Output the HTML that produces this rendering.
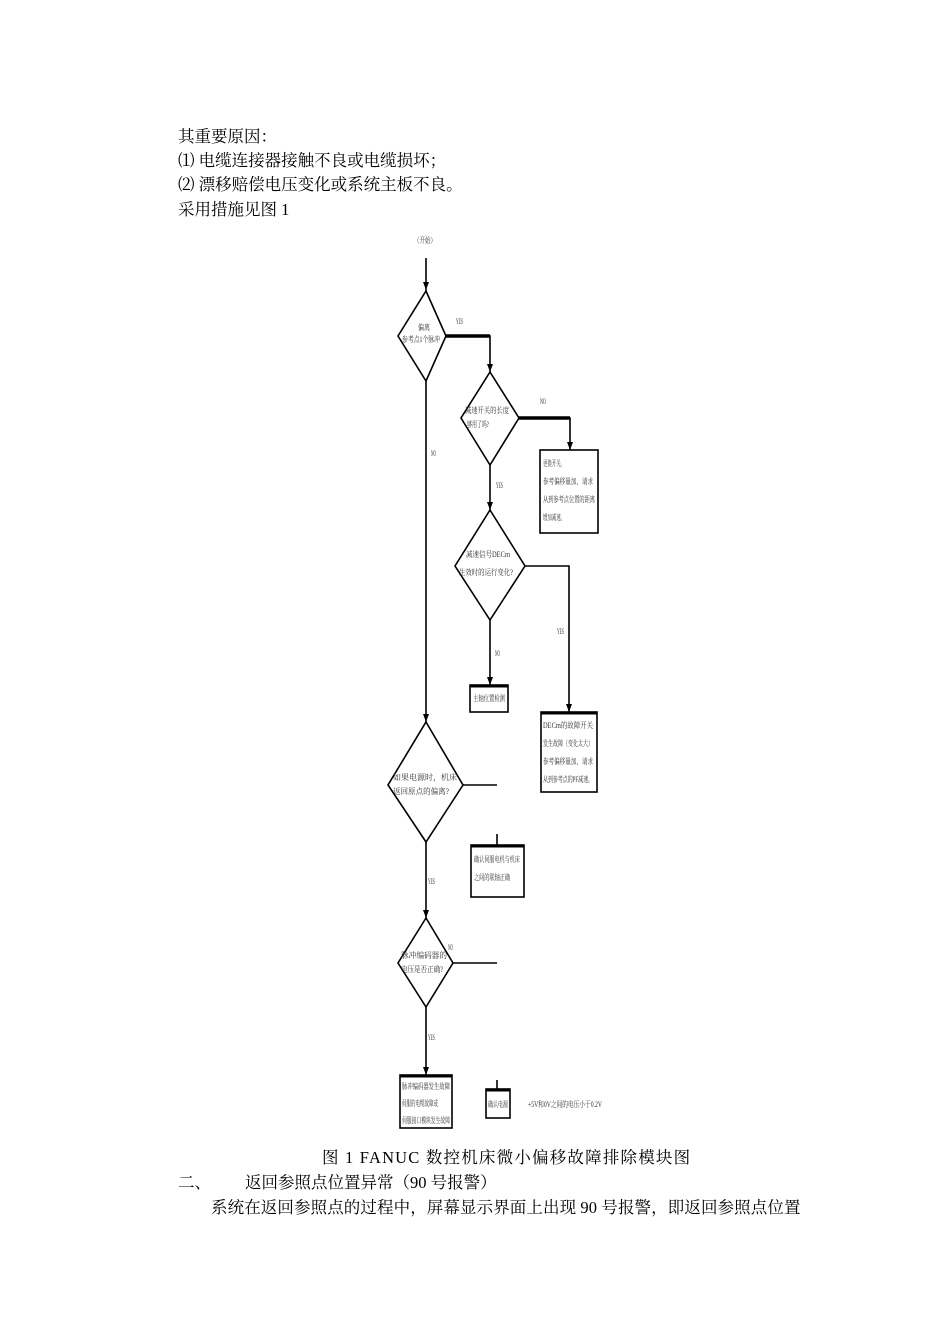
<!DOCTYPE html>
<html><head><meta charset="utf-8"><style>
body{margin:0;width:950px;height:1344px;background:#fff;position:relative;overflow:hidden;font-family:"Liberation Serif","Noto Serif CJK SC",serif;color:#000}
.t{position:absolute;font-size:16.5px;white-space:nowrap;line-height:20px}
svg{position:absolute;left:0;top:0}
svg text{font-family:"Liberation Serif","Noto Serif CJK SC",serif;fill:#333}
</style></head><body>
<div class="t" style="left:178px;top:127px">其重要原因：</div>
<div class="t" style="left:178px;top:151px">⑴ 电缆连接器接触不良或电缆损坏；</div>
<div class="t" style="left:178px;top:175px">⑵ 漂移赔偿电压变化或系统主板不良。</div>
<div class="t" style="left:178px;top:200px">采用措施见图 1</div>
<div class="t" style="left:322px;top:1148px;letter-spacing:1.2px">图 1 FANUC 数控机床微小偏移故障排除模块图</div>
<div class="t" style="left:178px;top:1173px">二、</div>
<div class="t" style="left:245px;top:1173px">返回参照点位置异常（90 号报警）</div>
<div class="t" style="left:211px;top:1198px;letter-spacing:0.1px">系统在返回参照点的过程中，屏幕显示界面上出现 90 号报警，即返回参照点位置</div>
<svg width="950" height="1344" viewBox="0 0 950 1344">
<g stroke="#000" fill="none" stroke-width="1.6">
<line x1="426" y1="258" x2="426" y2="291"/>
<polygon points="426,291 446,336 426,381 398,336"/>
<line x1="426" y1="381" x2="426" y2="722"/>
<polyline points="446,336 490,336 490,372" /> <line x1="446" y1="336" x2="490" y2="336" stroke-width="3.5"/>
<polygon points="490,372 519,418 490,465 461,418"/>
<polyline points="519,418 570,418 570,450"/><line x1="519" y1="418" x2="570" y2="418" stroke-width="3.5"/>
<rect x="540" y="450" width="58" height="83"/>
<line x1="490" y1="465" x2="490" y2="510"/>
<polygon points="490,510 525,566 490,620 455,566"/>
<polyline points="525,566 569,566 569,712"/>
<line x1="490" y1="620" x2="490" y2="685"/>
<rect x="470" y="685" width="38" height="27"/>
<rect x="541" y="712" width="56" height="80"/>
<polygon points="426,722 463,785 426,842 388,785"/>
<line x1="463" y1="785" x2="497" y2="785"/>
<line x1="497" y1="834" x2="497" y2="845"/>
<rect x="471" y="845" width="53" height="52"/>
<line x1="426" y1="842" x2="426" y2="918"/>
<polygon points="426,918 453,963 426,1007 398,963"/>
<line x1="453" y1="963" x2="497" y2="963"/>
<line x1="426" y1="1007" x2="426" y2="1075"/>
<rect x="400" y="1075" width="52" height="53"/>
<line x1="497" y1="1080" x2="497" y2="1089"/>
<rect x="486" y="1089" width="24" height="29"/>
</g>
<g stroke="#000" stroke-width="3">
<line x1="470" y1="686" x2="508" y2="686"/><line x1="541" y1="713" x2="597" y2="713"/>
<line x1="471" y1="846" x2="524" y2="846"/><line x1="400" y1="1076" x2="452" y2="1076"/>
<line x1="486" y1="1090" x2="510" y2="1090"/>
</g>
<g fill="#000">
<polygon points="423,282 429,282 426,290"/><polygon points="487,364 493,364 490,372"/>
<polygon points="567,442 573,442 570,450"/><polygon points="487,502 493,502 490,510"/>
<polygon points="487,677 493,677 490,685"/><polygon points="566,704 572,704 569,712"/>
<polygon points="423,714 429,714 426,722"/><polygon points="423,910 429,910 426,918"/>
<polygon points="423,1067 429,1067 426,1075"/>
</g>
<g font-size="8" lengthAdjust="spacingAndGlyphs">
<text x="414" y="243" textLength="22" lengthAdjust="spacingAndGlyphs">（开始）</text>
<text x="456" y="324" textLength="7" lengthAdjust="spacingAndGlyphs">YES</text><text x="431" y="456" textLength="5" lengthAdjust="spacingAndGlyphs">NO</text>
<text x="540" y="404" textLength="6" lengthAdjust="spacingAndGlyphs">NO</text><text x="496" y="488" textLength="7" lengthAdjust="spacingAndGlyphs">YES</text>
<text x="557" y="634" textLength="7" lengthAdjust="spacingAndGlyphs">YES</text><text x="495" y="656" textLength="5" lengthAdjust="spacingAndGlyphs">NO</text>
<text x="428" y="884" textLength="7" lengthAdjust="spacingAndGlyphs">YES</text><text x="448" y="950" textLength="5" lengthAdjust="spacingAndGlyphs">NO</text>
<text x="428" y="1040" textLength="7" lengthAdjust="spacingAndGlyphs">YES</text>
<text x="418" y="330" textLength="12" lengthAdjust="spacingAndGlyphs">偏离</text><text x="402" y="342" textLength="38" lengthAdjust="spacingAndGlyphs">参考点1个脉冲</text>
<text x="465" y="413" textLength="44" lengthAdjust="spacingAndGlyphs">减速开关的长度</text><text x="467" y="427" textLength="22" lengthAdjust="spacingAndGlyphs">够用了吗?</text>
<text x="543" y="466" textLength="22" lengthAdjust="spacingAndGlyphs">更换开关。</text><text x="543" y="484" textLength="50" lengthAdjust="spacingAndGlyphs">参考偏移量加，请求</text><text x="543" y="502" textLength="52" lengthAdjust="spacingAndGlyphs">从到参考点位置的距离</text><text x="543" y="520" textLength="22" lengthAdjust="spacingAndGlyphs">增加减速。</text>
<text x="466" y="557" textLength="44" lengthAdjust="spacingAndGlyphs">减速信号DECm</text><text x="459" y="575" textLength="54" lengthAdjust="spacingAndGlyphs">生效时的运行变化?</text>
<text x="473" y="701" textLength="32" lengthAdjust="spacingAndGlyphs">主轴位置检测</text>
<text x="543" y="728" textLength="50" lengthAdjust="spacingAndGlyphs">DECm的故障开关</text><text x="543" y="746" textLength="50" lengthAdjust="spacingAndGlyphs">发生故障（变化太大）</text><text x="543" y="764" textLength="50" lengthAdjust="spacingAndGlyphs">参考偏移量加，请求</text><text x="543" y="782" textLength="50" lengthAdjust="spacingAndGlyphs">从到参考点的PF减速。</text>
<text x="393" y="780" textLength="64" lengthAdjust="spacingAndGlyphs">如果电源时，机床</text><text x="393" y="794" textLength="56" lengthAdjust="spacingAndGlyphs">返回原点的偏离?</text>
<text x="474" y="862" textLength="46" lengthAdjust="spacingAndGlyphs">确认伺服电机与机床</text><text x="474" y="880" textLength="36" lengthAdjust="spacingAndGlyphs">之间的联轴正确</text>
<text x="401" y="958" textLength="46" lengthAdjust="spacingAndGlyphs">脉冲编码器的</text><text x="401" y="972" textLength="42" lengthAdjust="spacingAndGlyphs">电压是否正确?</text>
<text x="402" y="1089" textLength="48" lengthAdjust="spacingAndGlyphs">脉冲编码器发生故障</text><text x="402" y="1106" textLength="36" lengthAdjust="spacingAndGlyphs">伺服的电缆故障或</text><text x="402" y="1123" textLength="48" lengthAdjust="spacingAndGlyphs">伺服接口模块发生故障</text>
<text x="488" y="1107" textLength="20" lengthAdjust="spacingAndGlyphs">确认电源</text>
<text x="528" y="1107" textLength="74" lengthAdjust="spacingAndGlyphs">+5V和0V之间的电压小于0.2V</text>
</g>
</svg>
</body></html>
